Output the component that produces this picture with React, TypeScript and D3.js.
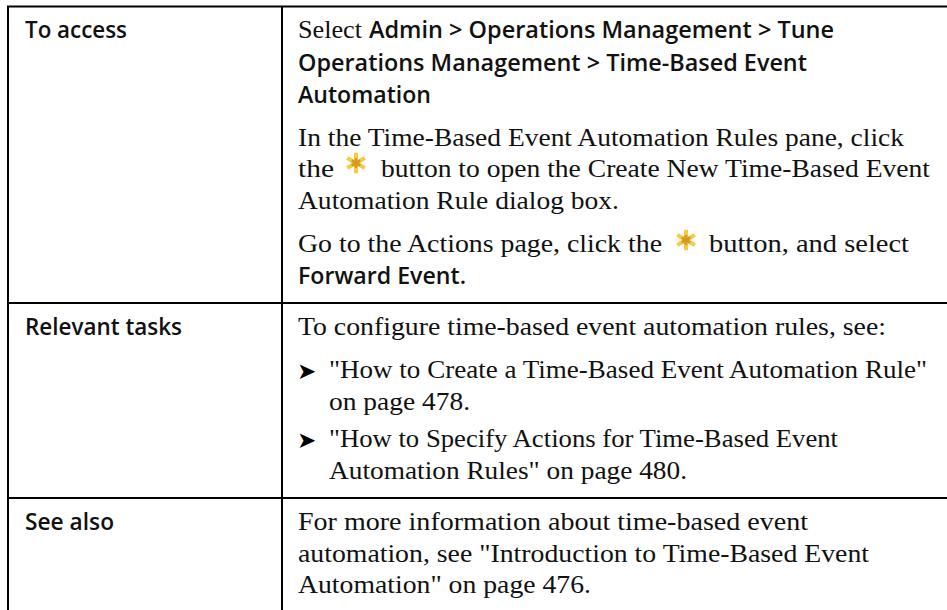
import React, { useEffect, useRef } from 'react';
import * as d3 from 'd3';

const width = 947;
const height = 610;

// table content
const rowLabels = ['To access', 'Relevant tasks', 'See also'];
const accessLines = [
  'Select',
  'Admin > Operations Management > Tune',
  'Operations Management > Time-Based Event',
  'Automation',
  'In the Time-Based Event Automation Rules pane, click',
  'the',
  'button to open the Create New Time-Based Event',
  'Automation Rule dialog box.',
  'Go to the Actions page, click the',
  'button, and select',
  'Forward Event.',
];
const accessBold = [false, true, true, true, false, false, false, false, false, false, true];
const tasksLines = [
  'To configure time-based event automation rules, see:',
  '"How to Create a Time-Based Event Automation Rule"',
  'on page 478.',
  '"How to Specify Actions for Time-Based Event',
  'Automation Rules" on page 480.',
];
const alsoLines = [
  'For more information about time-based event',
  'automation, see "Introduction to Time-Based Event',
  'Automation" on page 476.',
];

// layout, [x start, x end, baseline] for each line above
const labelBox = [[25, 127, 38], [25, 182, 335], [25, 114, 530]];
const accessBox = [
  [298, 362, 38], [369, 834, 38], [298, 807, 71], [298, 431, 103],
  [298, 904, 146], [298, 334, 177], [381, 930, 177], [298, 619, 209],
  [298, 662, 252], [709, 909, 252], [298, 466, 284],
];
const tasksBox = [[298, 886, 335], [329, 927, 378], [329, 470, 410], [329, 838, 447], [329, 687, 479]];
const alsoBox = [[298, 808, 530], [298, 869, 562], [298, 591, 593]];
const bulletBox = [[297, 378], [297, 447]];
const starBox = [[356, 163], [686, 240]];
const ruleY = [6.5, 303, 498];
const ruleX = [8, 282];

const serif = "'Liberation Serif', serif";
const sans = "'Open Sans', sans-serif";

export default function App() {
  const svgRef = useRef<SVGSVGElement>(null);

  useEffect(() => {
    const svg = d3.select(svgRef.current);
    svg.selectAll('*').remove();

    // the picture is a soft scan, a touch of blur on the icons only
    svg.append('defs').append('filter')
      .attr('id', 'soft')
      .append('feGaussianBlur')
      .attr('stdDeviation', 0.6);

    svg.selectAll('line.h').data(ruleY).enter().append('line')
      .attr('class', 'h')
      .attr('x1', ruleX[0] - 1).attr('x2', width)
      .attr('y1', d => d).attr('y2', d => d)
      .attr('stroke', '#000').attr('stroke-width', 2);

    svg.selectAll('line.v').data(ruleX).enter().append('line')
      .attr('class', 'v')
      .attr('x1', d => d).attr('x2', d => d)
      .attr('y1', ruleY[0]).attr('y2', height)
      .attr('stroke', '#000').attr('stroke-width', 2);

    // one text per run, stretched to the run's measured width
    const drawRuns = (lines: string[], box: number[][], bold: (i: number) => boolean) => {
      svg.append('g').selectAll('text').data(lines).enter().append('text')
        .attr('x', (d, i) => box[i][0])
        .attr('y', (d, i) => box[i][2])
        .attr('textLength', (d, i) => box[i][1] - box[i][0])
        .attr('lengthAdjust', 'spacingAndGlyphs')
        .attr('font-family', (d, i) => (bold(i) ? sans : serif))
        .attr('font-weight', (d, i) => (bold(i) ? 600 : 400))
        .attr('font-size', (d, i) => (bold(i) ? 23 : 25))
        .attr('fill', '#111')
        .text(d => d);
    };

    drawRuns(rowLabels, labelBox, () => true);
    drawRuns(accessLines, accessBox, i => accessBold[i]);
    drawRuns(tasksLines, tasksBox, () => false);
    drawRuns(alsoLines, alsoBox, () => false);

    svg.append('g').selectAll('text').data(bulletBox).enter().append('text')
      .attr('x', d => d[0])
      .attr('y', d => d[1] + 1)
      .attr('font-family', "'DejaVu Sans', sans-serif")
      .attr('font-size', 23)
      .attr('fill', '#000')
      .text('\u27A4');

    const star = d3.symbol().type(d3.symbolAsterisk);
    const stars = svg.append('g').selectAll('g').data(starBox).enter().append('g')
      .attr('transform', d => `translate(${d[0]},${d[1]})`)
      .attr('filter', 'url(#soft)');
    stars.append('path')
      .attr('d', star.size(290)())
      .attr('fill', 'none')
      .attr('stroke', '#f4cb4a')
      .attr('stroke-width', 4);
    stars.append('path')
      .attr('d', star.size(70)())
      .attr('fill', 'none')
      .attr('stroke', '#d99a1c')
      .attr('stroke-width', 2.6);
  }, []);

  return (
    <svg
      ref={svgRef}
      width={width}
      height={height}
      style={{ position: 'absolute', left: 0, top: 0, display: 'block', background: '#fff' }}
    />
  );
}
